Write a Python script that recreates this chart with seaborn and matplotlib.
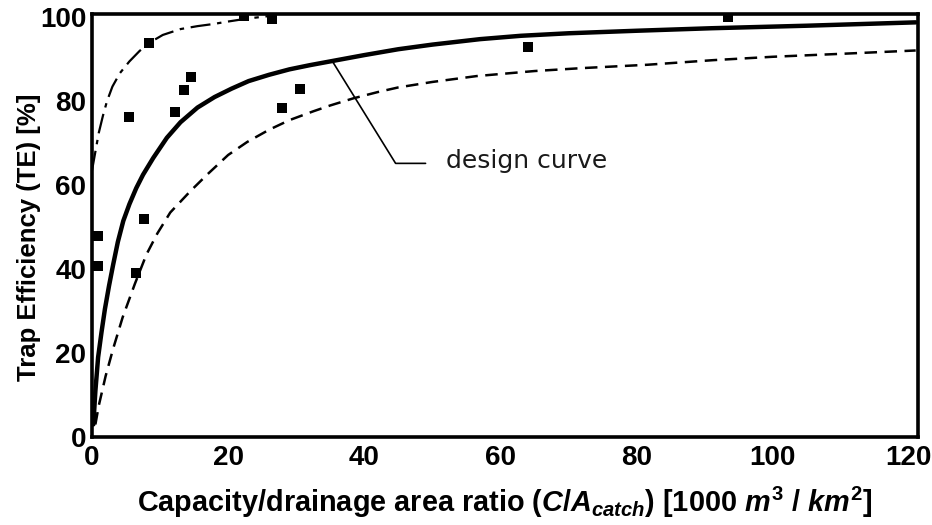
import numpy as np
import matplotlib
matplotlib.use('Agg')
import matplotlib.pyplot as plt
import seaborn as sns

# design curve (solid)
design_x = [0.2, 0.5, 0.9, 1.4, 1.9, 2.5, 3.1, 3.8, 4.6, 5.5, 6.5, 7.5, 9, 11, 13, 15.5,
            18, 20.5, 23, 26, 29, 32, 35, 40, 45, 50, 57, 63, 70, 80, 91, 105, 121]
design_y = [3, 11, 19, 25, 30.5, 36, 41, 46.5, 51.5, 55.5, 59.3, 62.5, 66.5, 71.3, 75, 78.5,
            81, 83, 84.8, 86.3, 87.6, 88.6, 89.5, 91, 92.4, 93.5, 94.8, 95.6, 96.2, 96.8, 97.4, 98, 98.8]

# upper envelope (dash-dot)
upper_x = [0.0, 0.5, 1.0, 1.6, 2.2, 3.0, 4.1, 5.5, 7.0, 8.5, 10.4, 13, 15.5, 17.8, 20, 22.8, 26]
upper_y = [63.5, 68, 72.5, 76.5, 80, 83.5, 86.7, 89.5, 92, 94, 95.8, 97.2, 97.9, 98.4, 99, 99.7, 100.3]

# lower envelope (dashed)
lower_x = [0.5, 1, 2, 3.1, 4.5, 6.3, 8, 9.6, 11.5, 14.4, 16.9, 20, 22.8, 26, 29, 32.5, 35,
           38.4, 42, 45, 50, 56.5, 65, 72, 81.6, 91.3, 100, 110, 121]
lower_y = [3, 7.5, 14.5, 21, 28.5, 36.5, 43.5, 48.5, 53.5, 58.5, 62.5, 67.2, 70.3, 73.2, 75.5, 77.6, 79,
           80.7, 82.2, 83.3, 84.6, 86, 87.2, 87.9, 88.7, 89.8, 90.6, 91.3, 92.1]

# observed data
obs_x = [0.9, 0.9, 5.4, 8.4, 7.6, 6.5, 12.2, 13.5, 14.6, 22.4, 26.5, 27.9, 30.6, 64.1, 93.4]
obs_y = [47.9, 40.7, 76.2, 94, 52, 39, 77.4, 82.6, 85.7, 100.3, 99.5, 78.3, 82.9, 92.9, 100]

sns.set_style('white')
plt.rcParams['font.family'] = ['Liberation Sans', 'DejaVu Sans']
plt.rcParams['text.color'] = 'black'
plt.rcParams['axes.labelcolor'] = 'black'
plt.rcParams['xtick.color'] = 'black'
plt.rcParams['ytick.color'] = 'black'
plt.rcParams['mathtext.fontset'] = 'custom'
plt.rcParams['mathtext.rm'] = 'Liberation Sans:bold'
plt.rcParams['mathtext.it'] = 'Liberation Sans:bold:italic'
plt.rcParams['mathtext.bf'] = 'Liberation Sans:bold'

fig = plt.figure(figsize=(9.32, 5.25), dpi=100)
ax = fig.add_axes([0.0987, 0.1676, 0.886, 0.805])

sns.lineplot(x=design_x, y=design_y, ax=ax, color='black', linewidth=3.2, sort=False)
sns.lineplot(x=upper_x, y=upper_y, ax=ax, color='black', linewidth=1.6, sort=False,
             linestyle=(0, (9, 3, 2, 3)))
sns.lineplot(x=lower_x, y=lower_y, ax=ax, color='black', linewidth=1.8, sort=False,
             linestyle=(0, (5, 3)))
sns.scatterplot(x=obs_x, y=obs_y, ax=ax, marker='s', s=55, color='black',
                edgecolor='black', linewidth=0, zorder=5)

# leader line to label
ax.plot([35.4, 44.6, 49], [89.3, 65.2, 65.2], color='black', linewidth=1.2)
ax.text(52, 65.8, 'design curve', fontsize=18, color='#1a1a1a', va='center',
        ha='left', family=['DejaVu Sans'])

ax.set_xlim(0, 121.3)
ax.set_ylim(0, 100.7)
ax.set_xticks([0, 20, 40, 60, 80, 100, 120])
ax.set_yticks([0, 20, 40, 60, 80, 100])
ax.set_xticks(np.arange(10, 121, 10), minor=True)
ax.set_yticks(np.arange(10, 101, 10), minor=True)
ax.tick_params(which='major', direction='in', length=5, width=1.2, labelsize=20,
               pad=4)
ax.tick_params(which='minor', direction='in', length=5, width=1.2)
ax.tick_params(axis='x', which='major', pad=6)
for lab in ax.get_xticklabels() + ax.get_yticklabels():
    lab.set_fontweight('bold')

for sp in ax.spines.values():
    sp.set_linewidth(2.6)
    sp.set_color('black')

ax.set_xlabel(r'Capacity/drainage area ratio ($C/A_{catch}$) [1000 $m^3$ / $km^2$]',
              fontsize=20.8, fontweight='bold', labelpad=10)
ax.set_ylabel('Trap Efficiency (TE) [%]', fontsize=18.5, fontweight='bold')
ax.yaxis.set_label_coords(-0.062, 0.473)

fig.savefig('out.png', dpi=100)
